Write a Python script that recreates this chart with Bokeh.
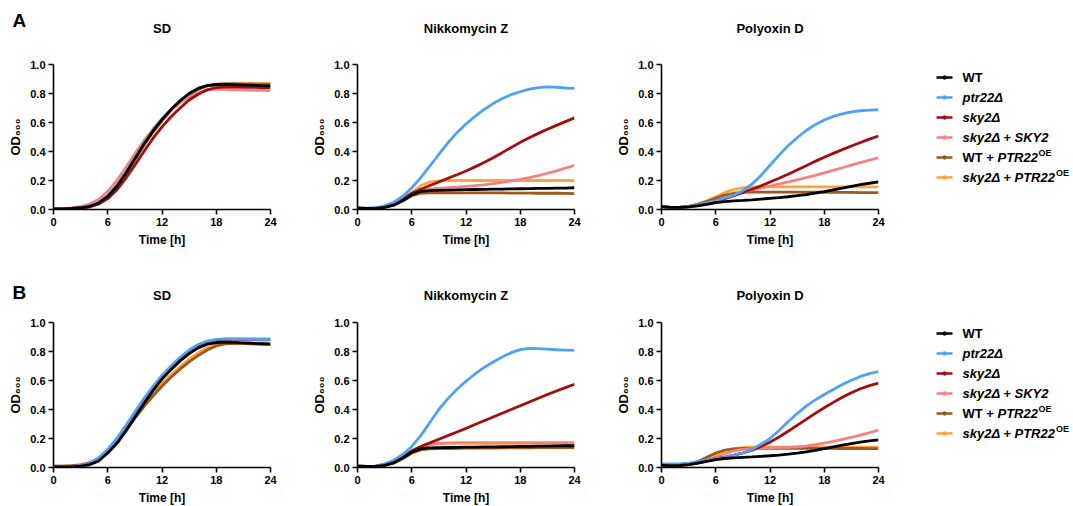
from bokeh.plotting import figure
from bokeh.models import Range1d, FixedTicker, NumeralTickFormatter
from bokeh.layouts import row, column
from bokeh.embed import file_html
from bokeh.resources import INLINE
from bokeh.core.properties import value

FONT = "Liberation Sans"

hours = list(range(25))
x_ticks = [0, 6, 12, 18, 24]
y_ticks = [0.0, 0.2, 0.4, 0.6, 0.8, 1.0]
panel_titles = ["SD", "Nikkomycin Z", "Polyoxin D"]
row_letters = ["A", "B"]
strains = ["WT", "ptr22Δ", "sky2Δ", "sky2Δ + SKY2", "WT + PTR22OE", "sky2Δ + PTR22OE"]
colors = ["#000000", "#4da3f2", "#a30d0d", "#f58282", "#9a5a1c", "#ffa33f"]

# ---------------- Row A ----------------
A_SD_WT     = [0.005,0.005,0.007,0.012,0.022,0.045,0.09,0.16,0.25,0.35,0.45,0.54,0.62,0.69,0.75,0.80,0.835,0.855,0.862,0.863,0.861,0.859,0.857,0.855,0.853]
A_SD_ptr22  = [0.005,0.005,0.008,0.013,0.024,0.048,0.095,0.165,0.255,0.355,0.455,0.545,0.625,0.69,0.75,0.80,0.835,0.855,0.862,0.865,0.864,0.862,0.86,0.858,0.856]
A_SD_sky2   = [0.005,0.005,0.006,0.01,0.018,0.038,0.075,0.135,0.215,0.305,0.40,0.49,0.57,0.64,0.70,0.755,0.795,0.825,0.84,0.845,0.845,0.843,0.842,0.841,0.84]
A_SD_SKY2   = [0.005,0.007,0.011,0.02,0.038,0.07,0.125,0.2,0.29,0.385,0.475,0.555,0.625,0.685,0.735,0.775,0.805,0.825,0.83,0.828,0.826,0.824,0.822,0.821,0.82]
A_SD_WTOE   = [0.005,0.005,0.007,0.012,0.021,0.043,0.085,0.155,0.245,0.345,0.445,0.535,0.615,0.685,0.745,0.795,0.83,0.852,0.862,0.866,0.866,0.865,0.864,0.863,0.862]
A_SD_sky2OE = [0.005,0.005,0.007,0.011,0.02,0.04,0.082,0.15,0.24,0.34,0.44,0.53,0.61,0.68,0.74,0.79,0.828,0.852,0.865,0.87,0.871,0.871,0.87,0.87,0.87]

A_NZ_WT     = [0.01,0.008,0.008,0.015,0.03,0.06,0.1,0.125,0.13,0.132,0.134,0.135,0.137,0.138,0.139,0.14,0.141,0.142,0.143,0.144,0.145,0.146,0.147,0.148,0.15]
A_NZ_ptr22  = [0.01,0.01,0.012,0.025,0.05,0.09,0.15,0.22,0.30,0.38,0.46,0.53,0.59,0.643,0.69,0.73,0.765,0.792,0.812,0.83,0.84,0.845,0.843,0.838,0.835]
A_NZ_sky2   = [0.01,0.008,0.009,0.018,0.038,0.072,0.112,0.14,0.165,0.19,0.215,0.24,0.266,0.294,0.324,0.357,0.392,0.428,0.463,0.495,0.525,0.554,0.58,0.606,0.632]
A_NZ_SKY2   = [0.01,0.008,0.009,0.018,0.036,0.07,0.108,0.13,0.14,0.145,0.15,0.155,0.16,0.165,0.17,0.178,0.187,0.197,0.208,0.22,0.234,0.25,0.267,0.285,0.305]
A_NZ_WTOE   = [0.01,0.008,0.008,0.015,0.03,0.06,0.095,0.112,0.115,0.115,0.115,0.115,0.115,0.115,0.114,0.114,0.114,0.113,0.113,0.113,0.112,0.112,0.112,0.111,0.11]
A_NZ_sky2OE = [0.01,0.008,0.009,0.018,0.036,0.07,0.115,0.165,0.19,0.198,0.2,0.2,0.2,0.2,0.2,0.2,0.2,0.2,0.2,0.2,0.2,0.2,0.2,0.2,0.2]

A_PD_WT     = [0.02,0.015,0.015,0.018,0.025,0.035,0.048,0.055,0.06,0.063,0.067,0.072,0.077,0.082,0.088,0.095,0.103,0.113,0.124,0.136,0.148,0.16,0.171,0.181,0.19]
A_PD_ptr22  = [0.02,0.015,0.015,0.02,0.03,0.045,0.06,0.08,0.1,0.13,0.175,0.235,0.305,0.375,0.44,0.495,0.545,0.585,0.617,0.642,0.66,0.673,0.681,0.685,0.688]
A_PD_sky2   = [0.02,0.015,0.015,0.02,0.03,0.043,0.058,0.075,0.095,0.117,0.14,0.163,0.19,0.215,0.243,0.272,0.302,0.332,0.36,0.387,0.413,0.438,0.462,0.485,0.507]
A_PD_SKY2   = [0.02,0.015,0.015,0.02,0.03,0.043,0.06,0.08,0.1,0.118,0.135,0.148,0.162,0.175,0.19,0.205,0.22,0.235,0.252,0.27,0.288,0.306,0.324,0.34,0.357]
A_PD_WTOE   = [0.02,0.015,0.015,0.02,0.035,0.055,0.078,0.1,0.112,0.118,0.12,0.12,0.12,0.12,0.12,0.12,0.12,0.12,0.119,0.119,0.118,0.118,0.117,0.117,0.116]
A_PD_sky2OE = [0.02,0.015,0.015,0.022,0.038,0.06,0.088,0.118,0.138,0.15,0.155,0.156,0.156,0.156,0.156,0.156,0.156,0.156,0.156,0.156,0.156,0.156,0.156,0.156,0.156]

# ---------------- Row B ----------------
B_SD_WT     = [0.005,0.004,0.005,0.01,0.02,0.045,0.1,0.165,0.25,0.345,0.44,0.53,0.61,0.675,0.735,0.785,0.825,0.85,0.862,0.865,0.863,0.86,0.857,0.855,0.853]
B_SD_ptr22  = [0.005,0.005,0.008,0.015,0.03,0.065,0.125,0.2,0.29,0.385,0.475,0.56,0.635,0.70,0.76,0.81,0.848,0.872,0.883,0.887,0.887,0.886,0.885,0.884,0.883]
B_SD_sky2   = [0.005,0.005,0.008,0.015,0.03,0.063,0.12,0.195,0.283,0.377,0.467,0.552,0.627,0.693,0.753,0.803,0.842,0.868,0.88,0.885,0.886,0.886,0.885,0.885,0.885]
B_SD_SKY2   = [0.005,0.005,0.008,0.015,0.03,0.062,0.118,0.19,0.277,0.37,0.46,0.545,0.62,0.687,0.747,0.798,0.838,0.864,0.877,0.882,0.882,0.881,0.88,0.879,0.878]
B_SD_WTOE   = [0.01,0.01,0.012,0.018,0.032,0.062,0.115,0.18,0.258,0.34,0.42,0.493,0.56,0.622,0.678,0.728,0.772,0.81,0.838,0.852,0.855,0.854,0.852,0.85,0.848]
B_SD_sky2OE = [0.01,0.01,0.012,0.018,0.033,0.064,0.118,0.185,0.265,0.35,0.432,0.508,0.577,0.64,0.697,0.747,0.79,0.826,0.848,0.858,0.859,0.857,0.855,0.853,0.851]

B_NZ_WT     = [0.01,0.008,0.008,0.015,0.032,0.065,0.105,0.13,0.135,0.137,0.138,0.139,0.14,0.141,0.142,0.142,0.143,0.144,0.145,0.146,0.147,0.148,0.149,0.15,0.15]
B_NZ_ptr22  = [0.01,0.008,0.01,0.025,0.05,0.09,0.145,0.22,0.31,0.40,0.475,0.54,0.595,0.645,0.69,0.728,0.762,0.792,0.813,0.821,0.82,0.816,0.812,0.81,0.808]
B_NZ_sky2   = [0.01,0.008,0.01,0.02,0.04,0.075,0.115,0.145,0.17,0.195,0.22,0.245,0.27,0.296,0.322,0.348,0.374,0.4,0.426,0.452,0.478,0.503,0.528,0.551,0.574]
B_NZ_SKY2   = [0.01,0.008,0.01,0.02,0.038,0.072,0.11,0.14,0.158,0.166,0.17,0.171,0.172,0.172,0.172,0.172,0.172,0.172,0.172,0.172,0.172,0.172,0.172,0.172,0.172]
B_NZ_WTOE   = [0.01,0.008,0.008,0.015,0.03,0.06,0.1,0.122,0.128,0.13,0.131,0.132,0.133,0.133,0.134,0.134,0.135,0.135,0.136,0.136,0.137,0.137,0.138,0.138,0.138]
B_NZ_sky2OE = [0.01,0.008,0.01,0.02,0.038,0.072,0.112,0.145,0.16,0.165,0.166,0.167,0.167,0.167,0.167,0.167,0.167,0.167,0.167,0.167,0.167,0.167,0.167,0.167,0.167]

B_PD_WT     = [0.015,0.013,0.015,0.02,0.03,0.042,0.055,0.062,0.067,0.07,0.073,0.077,0.081,0.086,0.092,0.099,0.108,0.118,0.13,0.142,0.154,0.165,0.175,0.183,0.19]
B_PD_ptr22  = [0.025,0.025,0.025,0.03,0.04,0.05,0.06,0.07,0.085,0.1,0.125,0.16,0.2,0.255,0.315,0.372,0.423,0.466,0.503,0.538,0.572,0.602,0.628,0.647,0.662]
B_PD_sky2   = [0.02,0.015,0.015,0.02,0.03,0.045,0.06,0.072,0.085,0.1,0.12,0.145,0.175,0.21,0.25,0.291,0.332,0.373,0.412,0.449,0.484,0.515,0.543,0.565,0.582]
B_PD_SKY2   = [0.02,0.015,0.015,0.02,0.032,0.048,0.07,0.095,0.115,0.125,0.13,0.133,0.135,0.137,0.139,0.142,0.148,0.157,0.168,0.18,0.194,0.208,0.223,0.24,0.258]
B_PD_WTOE   = [0.02,0.015,0.015,0.022,0.04,0.07,0.1,0.12,0.128,0.131,0.132,0.132,0.132,0.132,0.132,0.132,0.132,0.132,0.132,0.132,0.131,0.131,0.131,0.13,0.13]
B_PD_sky2OE = [0.02,0.015,0.015,0.02,0.035,0.06,0.088,0.115,0.13,0.137,0.14,0.141,0.141,0.141,0.141,0.141,0.141,0.141,0.141,0.141,0.141,0.141,0.141,0.141,0.141]

row_A = [
    [A_SD_WT, A_SD_ptr22, A_SD_sky2, A_SD_SKY2, A_SD_WTOE, A_SD_sky2OE],
    [A_NZ_WT, A_NZ_ptr22, A_NZ_sky2, A_NZ_SKY2, A_NZ_WTOE, A_NZ_sky2OE],
    [A_PD_WT, A_PD_ptr22, A_PD_sky2, A_PD_SKY2, A_PD_WTOE, A_PD_sky2OE],
]
row_B = [
    [B_SD_WT, B_SD_ptr22, B_SD_sky2, B_SD_SKY2, B_SD_WTOE, B_SD_sky2OE],
    [B_NZ_WT, B_NZ_ptr22, B_NZ_sky2, B_NZ_SKY2, B_NZ_WTOE, B_NZ_sky2OE],
    [B_PD_WT, B_PD_ptr22, B_PD_sky2, B_PD_SKY2, B_PD_WTOE, B_PD_sky2OE],
]

# layout constants (pixels)
W_TOTAL = 1073
FW, FH = 217, 145
COL_BORDERS = [(53, 35), (52, 36), (51, 22)]
DRAW_ORDER = [5, 4, 3, 2, 1, 0]
PANEL_TOP = 14


def style_fig(p):
    p.outline_line_color = None
    p.grid.visible = False
    p.background_fill_color = "white"
    p.border_fill_color = "white"


def make_header(h, letter, letter_y, title_y):
    """Strip above a row of panels holding the panel letter and panel titles."""
    hp = figure(frame_width=W_TOTAL, frame_height=h, min_border=0,
                x_range=Range1d(0, W_TOTAL), y_range=Range1d(h, 0),
                x_axis_location=None, y_axis_location=None,
                output_backend="svg", toolbar_location=None)
    style_fig(hp)
    hp.text(x=[12], y=[letter_y], text=[letter], text_font=value(FONT),
            text_font_style="bold", text_font_size="19px",
            text_baseline="middle", text_align="left", text_color="black")
    centers, x0 = [], 0
    for (l, r) in COL_BORDERS:
        centers.append(x0 + l + FW / 2)
        x0 += l + FW + r
    hp.text(x=centers, y=[title_y] * 3, text=panel_titles, text_font=value(FONT),
            text_font_style="bold", text_font_size="13px",
            text_baseline="middle", text_align="center", text_color="black")
    return hp


def make_panel(series, left, right, bottom):
    p = figure(frame_width=FW, frame_height=FH,
               min_border_left=left, min_border_right=right,
               min_border_top=PANEL_TOP, min_border_bottom=bottom,
               x_range=Range1d(0, 24), y_range=Range1d(0, 1),
               output_backend="svg", toolbar_location=None)
    style_fig(p)
    for i in DRAW_ORDER:
        p.line(hours, series[i], line_color=colors[i], line_width=2.8)

    for ax in (p.xaxis[0], p.yaxis[0]):
        ax.axis_line_color = "black"
        ax.axis_line_width = 1.6
        ax.major_tick_line_color = "black"
        ax.major_tick_line_width = 1.6
        ax.major_tick_out = 5
        ax.major_tick_in = 0
        ax.minor_tick_line_color = None
        ax.major_label_text_font = FONT
        ax.major_label_text_font_style = "bold"
        ax.major_label_text_font_size = "11px"
        ax.major_label_text_color = "black"
        ax.axis_label_text_font = FONT
        ax.axis_label_text_font_style = "bold"
        ax.axis_label_text_color = "black"
        ax.major_label_standoff = 3

    p.xaxis.ticker = FixedTicker(ticks=x_ticks)
    p.yaxis.ticker = FixedTicker(ticks=y_ticks)
    p.yaxis.formatter = NumeralTickFormatter(format="0.0")
    p.xaxis.axis_label = "Time [h]"
    p.xaxis.axis_label_text_font_size = "12px"
    p.xaxis.axis_label_standoff = 4
    p.yaxis.axis_label = "OD₆₀₀"
    p.yaxis.axis_label_text_font_size = "13px"
    p.yaxis.axis_label_standoff = 4
    return p


# legend text pieces: (text, style, x offset, superscript?)
legend_pieces = [
    [("WT", "bold", 0, False)],
    [("ptr22Δ", "bold italic", 0, False)],
    [("sky2Δ", "bold italic", 0, False)],
    [("sky2Δ + SKY2", "bold italic", 0, False)],
    [("WT +", "bold", 0, False), ("PTR22", "bold italic", 35, False), ("OE", "bold", 76, True)],
    [("sky2Δ + PTR22", "bold italic", 0, False), ("OE", "bold", 93.5, True)],
]


def make_legend(bottom, y0):
    # frame is aligned with the panel frames of the same row; coordinates in pixels
    lp = figure(frame_width=173, frame_height=FH,
                min_border_left=0, min_border_right=0,
                min_border_top=PANEL_TOP, min_border_bottom=bottom,
                x_range=Range1d(0, 173), y_range=Range1d(FH, 0),
                x_axis_location=None, y_axis_location=None,
                output_backend="svg", toolbar_location=None)
    style_fig(lp)
    ys = [y0 + 20 * i for i in range(len(strains))]
    lp.segment(x0=[36] * 6, x1=[52] * 6, y0=ys, y1=ys, line_color=colors, line_width=2.6)
    lp.scatter(x=[44] * 6, y=ys, size=3.5, marker="circle", color=colors)
    for i, pieces in enumerate(legend_pieces):
        for txt, style, dx, sup in pieces:
            lp.text(x=[62 + dx], y=[ys[i] - (5 if sup else 0)], text=[txt],
                    text_font=value(FONT), text_font_style=style,
                    text_font_size="9px" if sup else "13px",
                    text_baseline="middle", text_align="left", text_color="black")
    return lp


head_A = make_header(50, row_letters[0], 20, 28)
figs_A = [make_panel(row_A[c], COL_BORDERS[c][0], COL_BORDERS[c][1], 41) for c in range(3)]
leg_A = make_legend(41, 13)

head_B = make_header(58, row_letters[1], 42, 45)
figs_B = [make_panel(row_B[c], COL_BORDERS[c][0], COL_BORDERS[c][1], 39) for c in range(3)]
leg_B = make_legend(39, 11)

layout = column(head_A, row(*figs_A, leg_A, spacing=0),
                head_B, row(*figs_B, leg_B, spacing=0), spacing=0)

open("out.html", "w").write(file_html(layout, INLINE))
